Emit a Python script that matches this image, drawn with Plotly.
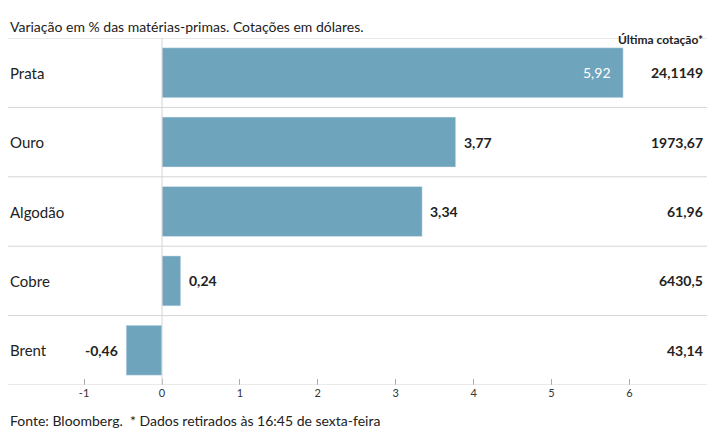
import plotly.graph_objects as go

names = ["Prata", "Ouro", "Algodão", "Cobre", "Brent"]
variacao = [5.92, 3.77, 3.34, 0.24, -0.46]
labels = ["5,92", "3,77", "3,34", "0,24", "-0,46"]
cotacao = ["24,1149", "1973,67", "61,96", "6430,5", "43,14"]
ticks = [-1, 0, 1, 2, 3, 4, 5, 6]

# page adds an 8px body margin, so the figure is a bit smaller than the window
W, H = 699, 429
PX = 77.9
ZERO = 154
x0 = -ZERO / PX
x1 = (W - ZERO) / PX
TOP, BOT = 30, 52
PH = H - TOP - BOT
FONT = "Lato"
BAR = "#6fa4bd"
GRID = "#d4d4d4"


def py(y):
    # figure pixel row -> paper y
    return (H - BOT - y) / PH


fig = go.Figure(go.Bar(
    x=variacao, y=names, orientation="h", marker_color=BAR, width=0.72,
    hoverinfo="skip"))

ann = []
for i, (n, v, lab, c) in enumerate(zip(names, variacao, labels, cotacao)):
    ann.append(dict(x=0, y=n, xref="paper", yref="y", text=n, showarrow=False,
                    xanchor="left", font=dict(family=FONT, size=15, color="#222")))
    if i == 0:
        ann.append(dict(x=v, y=n, text=lab, showarrow=False, xanchor="right", xshift=-10,
                        font=dict(family=FONT, size=14, color="white")))
    elif v < 0:
        ann.append(dict(x=v, y=n, text="<b>" + lab + "</b>", showarrow=False, xanchor="right", xshift=-6,
                        font=dict(family=FONT, size=14, color="#222")))
    else:
        ann.append(dict(x=v, y=n, text="<b>" + lab + "</b>", showarrow=False, xanchor="left", xshift=6,
                        font=dict(family=FONT, size=14, color="#222")))
    ann.append(dict(x=1, y=n, xref="paper", yref="y", text="<b>" + c + "</b>", showarrow=False,
                    xanchor="right", xshift=-2, font=dict(family=FONT, size=14, color="#222")))

ann.append(dict(x=0, y=py(18), xref="paper", yref="paper", yanchor="middle",
                text="Variação em % das matérias-primas. Cotações em dólares.", showarrow=False,
                xanchor="left", font=dict(family=FONT, size=14, color="#222")))
ann.append(dict(x=1, y=py(32), xref="paper", yref="paper", yanchor="middle", xshift=-2,
                text="<b>Última cotação*</b>", showarrow=False,
                xanchor="right", font=dict(family=FONT, size=12, color="#222")))
ann.append(dict(x=0, y=py(412), xref="paper", yref="paper", yanchor="middle",
                text="Fonte: Bloomberg.  * Dados retirados às 16:45 de sexta-feira", showarrow=False,
                xanchor="left", font=dict(family=FONT, size=14, color="#222")))

shapes = [dict(type="line", xref="paper", x0=0, x1=1, yref="y", y0=i + 0.5, y1=i + 0.5,
               line=dict(color=GRID, width=1)) for i in range(-1, len(names))]
shapes.append(dict(type="line", xref="x", x0=0, x1=0, yref="paper", y0=0, y1=1,
                   line=dict(color=GRID, width=1)))

fig.update_layout(
    width=W, height=H, margin=dict(l=0, r=0, t=TOP, b=BOT),
    paper_bgcolor="white", plot_bgcolor="white", showlegend=False,
    annotations=ann, shapes=shapes,
    xaxis=dict(range=[x0, x1], tickvals=ticks, ticktext=[str(t) for t in ticks],
               showgrid=False, zeroline=False, ticks="inside", ticklen=6, tickcolor="#aaa",
               tickfont=dict(family=FONT, size=11, color="#333")),
    yaxis=dict(categoryorder="array", categoryarray=names[::-1], showticklabels=False,
               showgrid=False, zeroline=False, range=[-0.5, 4.5]),
)

fig.write_html("out.html")
